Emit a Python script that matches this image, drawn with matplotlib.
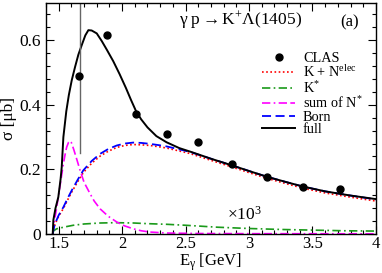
import matplotlib
matplotlib.use("Agg")
import matplotlib.pyplot as plt
from matplotlib.ticker import MultipleLocator

plt.rcParams['font.family'] = ['Liberation Serif', 'DejaVu Serif']
plt.rcParams['mathtext.fontset'] = 'custom'
plt.rcParams['mathtext.rm'] = 'Liberation Serif'
plt.rcParams['mathtext.it'] = 'Liberation Serif:italic'
plt.rcParams['mathtext.bf'] = 'Liberation Serif:bold'

# CLAS data
clas_x = [1.663, 1.883, 2.11, 2.357, 2.601, 2.869, 3.143, 3.424, 3.719]
clas_y = [0.49, 0.616, 0.372, 0.311, 0.285, 0.217, 0.176, 0.145, 0.138]

# full
full_x = [1.453, 1.458, 1.475, 1.497, 1.515, 1.524, 1.537, 1.56, 1.58, 1.603, 1.629, 1.655,
          1.682, 1.71, 1.734, 1.76, 1.8, 1.84, 1.88, 1.93, 1.98, 2.03, 2.07, 2.11, 2.15,
          2.2, 2.27, 2.35, 2.45, 2.544, 2.7, 2.869, 3.0, 3.143, 3.3, 3.424, 3.6, 3.8, 4.0]
full_y = [0.0, 0.043, 0.08, 0.114, 0.17, 0.207, 0.30, 0.38, 0.43, 0.476, 0.517, 0.555,
          0.585, 0.615, 0.631, 0.63, 0.621, 0.597, 0.57, 0.535, 0.495, 0.452, 0.415, 0.38, 0.355,
          0.33, 0.303, 0.284, 0.266, 0.254, 0.233, 0.212, 0.195, 0.177, 0.16, 0.147, 0.132, 0.119, 0.108]

# Born
born_x = [1.453, 1.46, 1.471, 1.5, 1.537, 1.57, 1.603, 1.65, 1.694, 1.76, 1.826, 1.89,
          1.958, 2.02, 2.088, 2.15, 2.22, 2.29, 2.352, 2.45, 2.536, 2.7, 2.869, 3.0,
          3.143, 3.3, 3.424, 3.6, 3.8, 4.0]
born_y = [0.0, 0.015, 0.032, 0.058, 0.083, 0.11, 0.135, 0.168, 0.197, 0.226, 0.248, 0.263,
          0.274, 0.28, 0.283, 0.282, 0.279, 0.275, 0.271, 0.262, 0.254, 0.233, 0.212, 0.195,
          0.177, 0.16, 0.147, 0.132, 0.119, 0.107]

# K + N elec
kn_x = [1.453, 1.46, 1.471, 1.5, 1.537, 1.57, 1.603, 1.65, 1.694, 1.76, 1.826, 1.89,
        1.958, 2.02, 2.088, 2.15, 2.22, 2.29, 2.352, 2.45, 2.536, 2.7, 2.869, 3.0,
        3.143, 3.3, 3.424, 3.6, 3.8, 4.0]
kn_y = [0.0, 0.014, 0.03, 0.055, 0.079, 0.105, 0.13, 0.162, 0.19, 0.219, 0.241, 0.256,
        0.268, 0.274, 0.277, 0.276, 0.274, 0.27, 0.266, 0.257, 0.249, 0.228, 0.207, 0.19,
        0.172, 0.155, 0.142, 0.127, 0.114, 0.102]

# K* (x10^3)
ks_x = [1.453, 1.46, 1.484, 1.55, 1.615, 1.7, 1.826, 1.95, 2.09, 2.2, 2.35, 2.5, 2.75,
        3.0, 3.25, 3.5, 3.75, 4.0]
ks_y = [0.0, 0.01, 0.016, 0.022, 0.027, 0.031, 0.034, 0.035, 0.034, 0.032, 0.03, 0.027,
        0.021, 0.017, 0.014, 0.012, 0.01, 0.009]

# sum of N*
ns_x = [1.453, 1.458, 1.475, 1.497, 1.517, 1.537, 1.55, 1.563, 1.578, 1.589, 1.60, 1.62,
        1.645, 1.668, 1.7, 1.747, 1.78, 1.826, 1.89, 1.958, 2.02, 2.088, 2.15, 2.22,
        2.35, 2.6, 3.0, 4.0]
ns_y = [0.0, 0.02, 0.06, 0.114, 0.165, 0.217, 0.245, 0.269, 0.284, 0.288, 0.283, 0.26,
        0.228, 0.198, 0.16, 0.125, 0.102, 0.078, 0.055, 0.037, 0.025, 0.016, 0.01, 0.006,
        0.003, 0.0015, 0.001, 0.0005]

fig = plt.figure(figsize=(3.82, 2.73), dpi=100)
ax = fig.add_axes([0.1204, 0.1429, 0.8636, 0.846])

ax.plot(kn_x, kn_y, color='red', ls=(0, (1, 1.5)), lw=1.2, label=r'K + N$^{\mathrm{elec}}$')
ax.plot(ks_x, ks_y, color='#1a9a1a', ls=(0, (5, 2, 1, 2)), lw=1.2, label=r'K$^{*}$')
ax.plot(ns_x, ns_y, color='magenta', ls=(0, (5, 2, 1, 2, 5, 2)), lw=1.2, label=r'sum of N$^{*}$')
ax.plot(born_x, born_y, color='blue', ls=(0, (5, 2.5)), lw=1.3, label='Born')
ax.plot(full_x, full_y, color='black', ls='-', lw=1.4, label='full')
ax.plot(clas_x, clas_y, 'o', color='black', ms=5, label='CLAS', zorder=5)

ax.axvline(1.67, ymin=0.25 / 0.715, ymax=1, color='0.4', lw=1.0)

ax.set_xlim(1.4, 4.0)
ax.set_ylim(0, 0.715)
ax.xaxis.set_major_locator(MultipleLocator(0.5))
ax.xaxis.set_minor_locator(MultipleLocator(0.1))
ax.yaxis.set_major_locator(MultipleLocator(0.2))
ax.yaxis.set_minor_locator(MultipleLocator(0.04))
ax.set_xticks([1.5, 2, 2.5, 3, 3.5, 4])
ax.set_xticklabels(['1.5', '2', '2.5', '3', '3.5', '4'])
ax.set_yticks([0, 0.2, 0.4, 0.6])
ax.set_yticklabels(['0', '0.2', '0.4', '0.6'])
ax.tick_params(which='both', direction='in', top=True, right=True, labelsize=12.5, width=0.8)
ax.tick_params(which='major', length=5.5)
ax.tick_params(which='minor', length=3)
ax.tick_params(axis='x', labelsize=12, pad=1.5)
for s in ax.spines.values():
    s.set_linewidth(1.0)

ax.set_xlabel(r'$\mathrm{E_{\gamma}}$ [GeV]', fontsize=12, labelpad=-0.8)
ax.set_ylabel(r'σ [μb]', fontsize=12.5, labelpad=2)

ax.text(2.93, 0.662, r'$\mathrm{\gamma\ p \rightarrow K^{+}\Lambda(1405)}$', fontsize=12.5,
        ha='center', va='center')
ax.text(3.79, 0.656, '(a)', fontsize=12, ha='center', va='center')
ax.text(2.83, 0.06, r'$\times 10^{3}$', fontsize=12.5, ha='left', va='center')

h, l = ax.get_legend_handles_labels()
order = [5, 0, 1, 2, 3, 4]
ax.legend([h[i] for i in order], [l[i] for i in order], loc='upper right',
          bbox_to_anchor=(0.99, 0.832), frameon=False, fontsize=10.3,
          handlelength=2.3, handletextpad=0.55, labelspacing=-0.03, borderpad=0.2)

fig.savefig('out.png', dpi=100)
